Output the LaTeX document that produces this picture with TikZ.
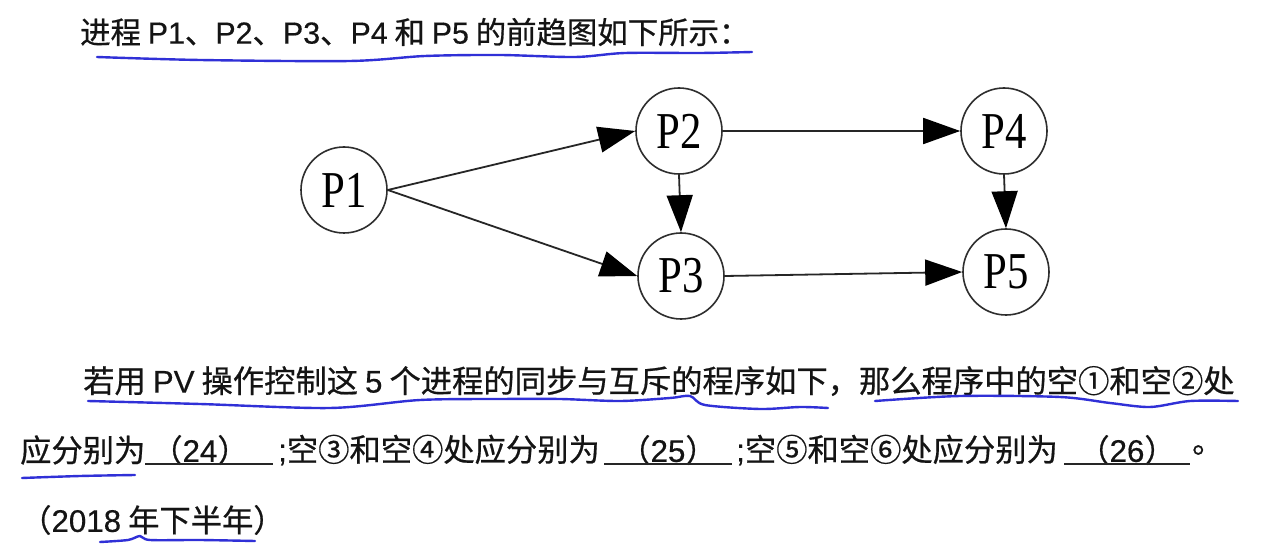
\documentclass[tikz,border=0pt]{standalone}
\usepackage{graphicx}
\usepackage{fontspec}
\setmainfont{Noto Sans CJK SC}[FakeBold=0.6]
\newfontfamily\latfont{Liberation Sans}[FakeBold=0.4]
\newfontfamily\serfont{Liberation Serif}
\newcommand\lt[1]{{\latfont #1}}
\newcommand\pn[1]{\scalebox{0.95}[1.15]{#1}}
\usetikzlibrary{arrows.meta}
\begin{document}
\begin{tikzpicture}[x=1pt,y=-1pt,
  proc/.style={circle, draw=black!82, line width=1.6pt, minimum size=86pt, inner sep=0pt, font=\serfont\fontsize{45}{45}\selectfont},
  edge/.style={draw=black!85, line width=1.8pt, -{Triangle[length=37pt,width=26pt,color=black]}},
  txt/.style={anchor=west, inner sep=0pt, text=black!92, font=\fontsize{31.3}{36}\selectfont},
  blank/.style={line width=1.6pt, draw=black!85},
  pen/.style={draw={rgb,255:red,48;green,48;blue,215}, line width=2.4pt, line cap=round, line join=round}
]
\useasboundingbox (0,0) rectangle (1277,545);
\fill[white] (0,0) rectangle (1277,545);

% graph
\node[proc] (P1) at (344,190) {\pn{P1}};
\node[proc] (P2) at (679,131) {\pn{P2}};
\node[proc] (P3) at (681,276) {\pn{P3}};
\node[proc] (P4) at (1004,131) {\pn{P4}};
\node[proc] (P5) at (1006,272) {\pn{P5}};
\draw[edge] (P1.east) -- (P2.west);
\draw[edge] (P1.east) -- (P3.west);
\draw[edge] (P2.south) -- (P3.north);
\draw[edge] (P2.east) -- (P4.west);
\draw[edge] (P3.east) -- (P5.west);
\draw[edge] (P4.south) -- (P5.north);

% text
\node[txt, font=\fontsize{30.4}{36}\selectfont] (L1) at (80,32) {进程 \lt{P1}、\lt{P2}、\lt{P3}、\lt{P4} 和 \lt{P5} 的前趋图如下所示：};
\node[txt] (L2) at (83,381) {若用 \lt{PV} 操作控制这 \lt{5} 个进程的同步与互斥的程序如下，那么程序中的空①和空②处};
\node[txt] (L3a) at (20,450) {应分别为};
\node[txt,anchor=center] (B1) at (200,450) {（\lt{24}）};
\coordinate (u1s) at (145,464); \coordinate (u1e) at (273,464);
\draw[blank] (u1s) -- (u1e);
\node[txt] (L3b) at (278,450) {\lt{;}空③和空④处应分别为};
\node[txt,anchor=center] (B2) at (668,450) {（\lt{25}）};
\coordinate (u2s) at (604,464); \coordinate (u2e) at (732,464);
\draw[blank] (u2s) -- (u2e);
\node[txt] (L3c) at (736,450) {\lt{;}空⑤和空⑥处应分别为};
\node[txt,anchor=center] (B3) at (1127,450) {（\lt{26}）};
\coordinate (u3s) at (1064,464); \coordinate (u3e) at (1190,464);
\draw[blank] (u3s) -- (u3e);
\node[txt] (L3d) at (1192,450) {。};
\node[txt] (L4) at (20,520) {（\lt{2018} 年下半年）};

% handwritten blue strokes
\draw[pen] plot[smooth] coordinates {(97,57) (200,60) (350,61) (425,56) (500,55) (575,57) (625,53) (700,53) (752,52)};
\draw[pen] plot[smooth] coordinates {(88,401) (200,404) (330,408) (420,400) (500,399) (560,399) (620,401) (670,398) (690,396) (705,405) (760,409) (800,407) (828,408)};
\draw[pen] plot[smooth] coordinates {(875,401) (960,396) (1060,397) (1110,403) (1150,407) (1190,401) (1238,401)};
\draw[pen] plot[smooth] coordinates {(22,478) (80,476) (135,475)};
\draw[pen] plot[smooth] coordinates {(100,542) (128,540) (140,536) (150,540) (200,540) (255,541)};
\end{tikzpicture}
\end{document}
